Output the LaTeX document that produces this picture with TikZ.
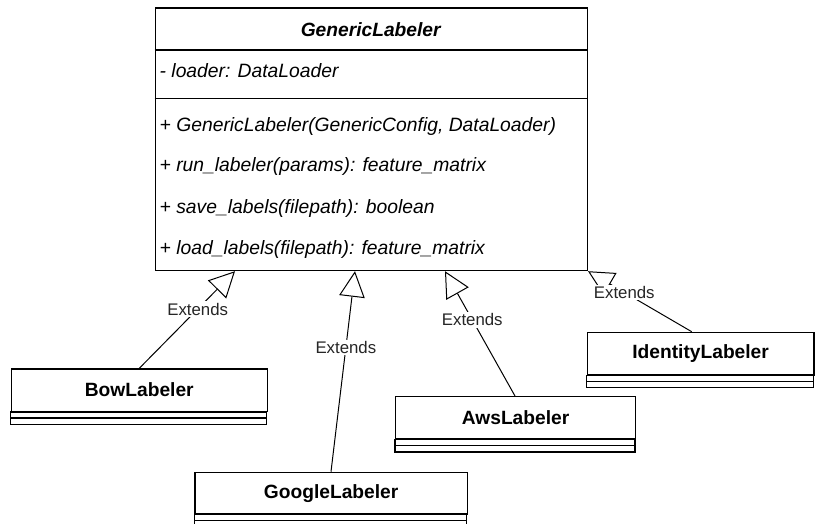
\documentclass[tikz,border=0pt]{standalone}
\usepackage{fontspec}
\setmainfont{Liberation Sans}
\usetikzlibrary{arrows.meta,calc}
\begin{document}
\begin{tikzpicture}[x=1pt,y=-1pt,
  box/.style={draw, line width=1.2pt, rectangle, inner sep=0pt, anchor=north west},
  headbox/.style={box, font=\fontsize{19.2}{22}\selectfont\bfseries},
  member/.style={anchor=west, inner sep=0pt, font=\fontsize{19.3}{22}\selectfont\itshape},
  ext/.style={draw, line width=1pt, -{Triangle[length=25.6pt,width=25.6pt,fill=white,line width=1pt]}},
  extlabel/.style={fill=white, inner sep=1.5pt, font=\fontsize{16.8}{19}\selectfont, text=black!85}]
\useasboundingbox (0,0) rectangle (815,523);

% GenericLabeler
\node[box, minimum width=432pt, minimum height=262.7pt] (gen) at (154.7,7.3) {};
\draw[line width=1.2pt] ($(gen.north west)+(0,42.7)$) coordinate (gd1) -- (gd1 -| gen.east);
\draw[line width=1.2pt] ($(gen.north west)+(0,91)$) coordinate (gd2) -- (gd2 -| gen.east);
\node[anchor=center, inner sep=0pt, font=\fontsize{19.2}{22}\selectfont\bfseries\itshape] (gtitle) at (370.7,29.5) {GenericLabeler};
\node[member] (a1) at (159.5,71) {- loader: DataLoader};
\node[member] (m1) at (159.5,127) {+ GenericLabeler(GenericConfig, DataLoader)};
\node[member] (m2) at (159.5,167) {+ run\_labeler(params): feature\_matrix};
\node[member] (m3) at (159.5,209) {+ save\_labels(filepath): boolean};
\node[member] (m4) at (159.5,250) {+ load\_labels(filepath): feature\_matrix};

% subclasses
\node[headbox, minimum width=256pt, minimum height=42.4pt] (bow) at (10.7,368.3) {BowLabeler};
\draw[line width=1.2pt] (bow.south west) rectangle ++(256,6) ++(-256,0) rectangle ++(256,6.6);

\node[headbox, minimum width=272.4pt, minimum height=41.6pt] (google) at (194.3,471.7) {GoogleLabeler};
\draw[line width=1.2pt] (google.south west) rectangle ++(272.4,5.7) ++(-272.4,0) rectangle ++(272.4,6.6);

\node[headbox, minimum width=240pt, minimum height=42.3pt] (aws) at (395,396) {AwsLabeler};
\draw[line width=1.2pt] (aws.south west) rectangle ++(240,6) ++(-240,0) rectangle ++(240,6.4);

\node[headbox, minimum width=226.6pt, minimum height=42.6pt] (ident) at (586.7,331.7) {IdentityLabeler};
\draw[line width=1.2pt] (ident.south west) rectangle ++(226.6,5.7) ++(-226.6,0) rectangle ++(226.6,6);

% connector end points
\coordinate (tb) at ($(gen.south west)+(80.3,0)$);
\coordinate (tg) at ($(gen.south west)+(200.3,0)$);
\coordinate (ta) at ($(gen.south west)+(290.3,0)$);
\coordinate (ti) at ($(gen.south west)+(433.3,0)$);
\coordinate (sb) at ($(bow.north west)+(128.6,0)$);
\coordinate (sg) at ($(google.north west)+(136.7,0)$);
\coordinate (sa) at ($(aws.north west)+(120,0)$);
\coordinate (si) at ($(ident.north west)+(105,0)$);

\draw[ext] (sb) -- node[extlabel, pos=0.61] (lb) {Extends} (tb);
\draw[ext] (sg) -- node[extlabel, pos=0.62] (lg) {Extends} (tg);
\draw[ext] (sa) -- node[extlabel, pos=0.61] (la) {Extends} (ta);
\draw[ext] (si) -- node[extlabel, pos=0.65] (li) {Extends} (ti);
\end{tikzpicture}
\end{document}
